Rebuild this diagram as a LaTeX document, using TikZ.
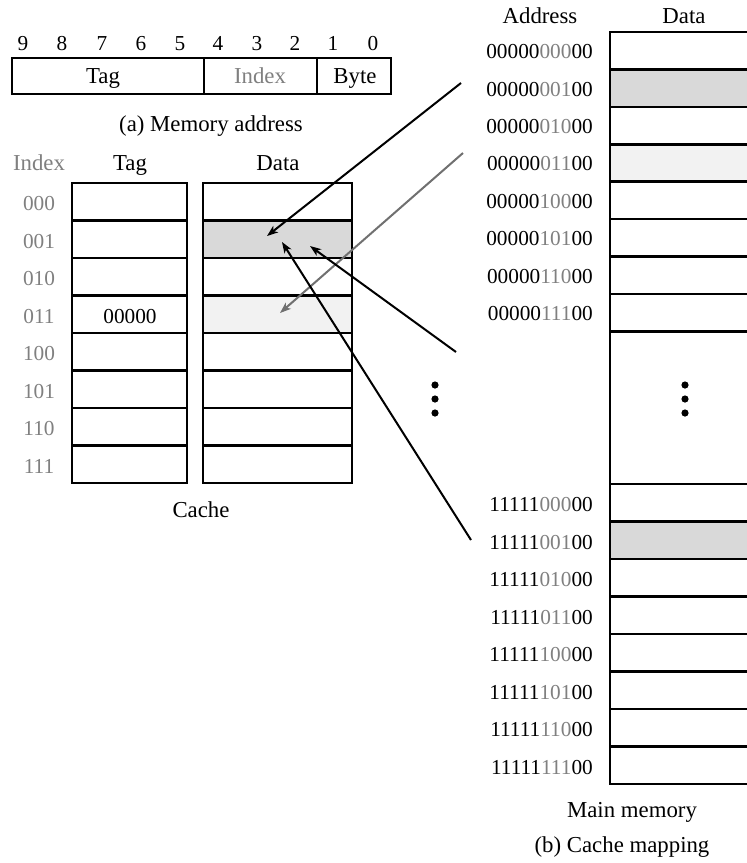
\documentclass[tikz,border=0pt]{standalone}
\usepackage{fontspec}
\setmainfont{Liberation Serif}
\usetikzlibrary{arrows.meta}
\definecolor{lbl}{HTML}{808080}
\definecolor{fillA}{HTML}{D9D9D9}
\definecolor{fillB}{HTML}{F2F2F2}
\definecolor{garrow}{HTML}{707070}
\newcommand{\ad}[3]{#1\textcolor{lbl}{#2}#3}
\begin{document}
\begin{tikzpicture}[x=1pt,y=-1pt,
  txt/.style={font=\fontsize{22.8}{26}\selectfont, inner sep=0pt},
  num/.style={font=\fontsize{21.3}{25}\selectfont, inner sep=0pt},
  box/.style={draw, line width=2.6pt, inner sep=0pt, outer sep=0pt},
  tagcell/.style={box, minimum width=115pt, minimum height=37.5pt},
  datacell/.style={box, minimum width=149pt, minimum height=37.5pt},
  memcell/.style={box, minimum width=170pt, minimum height=37.4pt},
  arr/.style={line width=2pt, -{Stealth[length=11pt,width=8pt,inset=3pt]}},
  dotf/.style={fill=black}]
\clip (0,0) rectangle (747,863);
\fill[white] (0,0) rectangle (747,863);

% ---------- (a) memory address ----------
\foreach \k/\x in {9/23,8/62,7/102,6/141,5/180,4/218,3/257,2/295,1/333,0/373}{
  \node[num, anchor=base] (bit\k) at (\x,50) {\k};
}
\node[box, minimum width=192pt, minimum height=36pt] (ftag) at (108,76) {};
\node[box, minimum width=113pt, minimum height=36pt] (findex) at (260.5,76) {};
\node[box, minimum width=74pt, minimum height=36pt] (fbyte) at (354,76) {};
\node[txt, anchor=base] (ltag) at (103,83) {Tag};
\node[txt, anchor=base, text=lbl] (lindex) at (260,83) {Index};
\node[txt, anchor=base] (lbyte) at (355,83) {Byte};
\node[txt, anchor=base] (capa) at (211,131) {(a) Memory address};

% ---------- cache ----------
\node[txt, anchor=base, text=lbl] (hindex) at (39,170) {Index};
\node[txt, anchor=base] (htag) at (130,170) {Tag};
\node[txt, anchor=base] (hdata) at (278,170) {Data};
\foreach \i/\b/\f in {0/000/white,1/001/fillA,2/010/white,3/011/fillB,4/100/white,5/101/white,6/110/white,7/111/white}{
  \pgfmathsetmacro{\yy}{183+37.5*(\i+0.5)}
  \node[tagcell] (t\i) at (129.5,\yy) {};
  \node[datacell, fill=\f] (d\i) at (277.5,\yy) {};
  \node[num, anchor=base, text=lbl] (ci\i) at (39,\yy+9) {\b};
}
\node[num, anchor=base] (tagval) at (130,323) {00000};
\node[txt, anchor=base] (capcache) at (201,517) {Cache};

% ---------- main memory ----------
\node[txt, anchor=base] (haddr) at (540,23) {Address};
\node[txt, anchor=base] (hmdata) at (684,23) {Data};
\foreach \i/\b/\f in {0/000/white,1/001/fillA,2/010/white,3/011/fillB,4/100/white,5/101/white,6/110/white,7/111/white}{
  \pgfmathsetmacro{\yy}{32+37.4*(\i+0.5)}
  \node[memcell, fill=\f] (m\i) at (695,\yy) {};
  \node[num, anchor=base east] (ma\i) at (593,\yy+8) {\ad{00000}{\b}{00}};
}
\foreach \i/\b/\f in {0/000/white,1/001/fillA,2/010/white,3/011/white,4/100/white,5/101/white,6/110/white,7/111/white}{
  \pgfmathsetmacro{\yy}{484+37.5*(\i+0.5)}
  \node[memcell, fill=\f] (n\i) at (695,\yy) {};
  \node[num, anchor=base east] (na\i) at (593,\yy+9) {\ad{11111}{\b}{00}};
}
\draw[line width=2.6pt] (m7.south west) -- (n0.north west);
\node[txt, anchor=base] (capmem) at (632,817) {Main memory};
\node[txt, anchor=base] (capb) at (622,852) {(b) Cache mapping};

% ---------- ellipses ----------
\foreach \yy in {385,399,413}{
  \fill[dotf] (435,\yy) circle[radius=3.6pt];
  \fill[dotf] (685,\yy) circle[radius=3.6pt];
}

% ---------- arrows ----------
\coordinate (s1) at (461,83);
\coordinate (s2) at (463,153);
\coordinate (s3) at (456,352);
\coordinate (s4) at (471,540);
\coordinate (e1) at (267,236);
\coordinate (e2) at (280,313);
\coordinate (e3) at (310,246);
\coordinate (e4) at (282,242);
\draw[arr] (s1) -- (e1);
\draw[arr, draw=garrow] (s2) -- (e2);
\draw[arr] (s3) -- (e3);
\draw[arr] (s4) -- (e4);
\end{tikzpicture}
\end{document}
